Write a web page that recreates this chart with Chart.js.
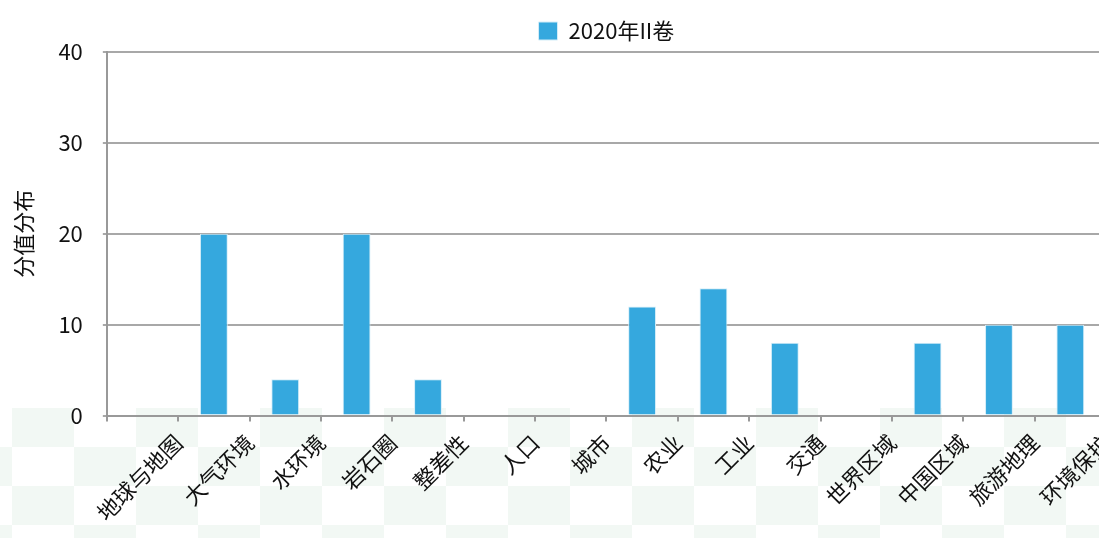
<!DOCTYPE html>
<html>
<head>
<meta charset="utf-8">
<script src="https://cdn.jsdelivr.net/npm/chart.js@4.4.1/dist/chart.umd.min.js"></script>
<style>
  html, body { margin: 0; padding: 0; background: #ffffff; overflow: hidden; }
  #wrap {
    position: relative; width: 1106px; height: 538px;
    background-color: #ffffff;
  }
  #bg {
    position: absolute; left: 0; top: 408px; width: 1106px; height: 130px;
    background-image: conic-gradient(#f2f8f4 0 25%, transparent 0 50%, #f2f8f4 0 75%, transparent 0);
    background-size: 124px 78px;
    background-position: -50px 0px;
  }
  canvas { position: absolute; left: 0; top: 0; }
</style>
</head>
<body>
<div id="wrap">
  <div id="bg"></div>
  <canvas id="c" width="1106" height="538"></canvas>
</div>
<script>
const categories = ['地球与地图','大气环境','水环境','岩石圈','整差性','人口','城市','农业','工业','交通','世界区域','中国区域','旅游地理','环境保护'];
const seriesName = '2020年II卷';
const seriesValues = [0, 20, 4, 20, 4, 0, 0, 12, 14, 8, 0, 8, 10, 10];
const yTicks = [0, 10, 20, 30, 40];
const yTitle = '分值分布';

const FONT = '"Noto Sans CJK SC", "Noto Sans", sans-serif';

new Chart(document.getElementById('c'), {
  type: 'bar',
  data: {
    labels: categories,
    datasets: [{
      label: seriesName,
      data: seriesValues,
      backgroundColor: '#35a8de',
      borderColor: '#d4edf8',
      borderWidth: 1,
      barPercentage: 0.39,
      categoryPercentage: 1.0
    }]
  },
  options: {
    responsive: false,
    animation: false,
    layout: { padding: { left: 6, right: 0, top: 10, bottom: 4 } },
    plugins: {
      legend: {
        position: 'top',
        fullSize: false,
        labels: {
          font: { family: FONT, size: 22 },
          color: '#111',
          boxWidth: 19,
          boxHeight: 18,
          padding: 10
        }
      },
      tooltip: { enabled: false }
    },
    scales: {
      x: {
        offset: true,
        grid: {
          offset: true,
          drawOnChartArea: false,
          drawTicks: true,
          tickLength: 6,
          color: '#999',
          lineWidth: 2
        },
        border: { color: '#999', width: 2 },
        ticks: {
          font: { family: FONT, size: 22 },
          color: '#111',
          minRotation: 45,
          maxRotation: 45,
          autoSkip: false,
          labelOffset: 36,
          padding: 8
        }
      },
      y: {
        min: yTicks[0],
        max: yTicks[yTicks.length - 1],
        afterBuildTicks: (axis) => { axis.ticks = yTicks.map(v => ({ value: v })); },
        grid: {
          color: '#a8a8a8',
          lineWidth: 2,
          tickLength: 4
        },
        border: { color: '#999', width: 2 },
        ticks: {
          font: { family: FONT, size: 22 },
          color: '#111',
          padding: 20
        },
        title: {
          display: true,
          text: yTitle,
          font: { family: FONT, size: 22 },
          color: '#111',
          padding: { top: 4, bottom: 2 }
        }
      }
    }
  }
});
</script>
</body>
</html>
